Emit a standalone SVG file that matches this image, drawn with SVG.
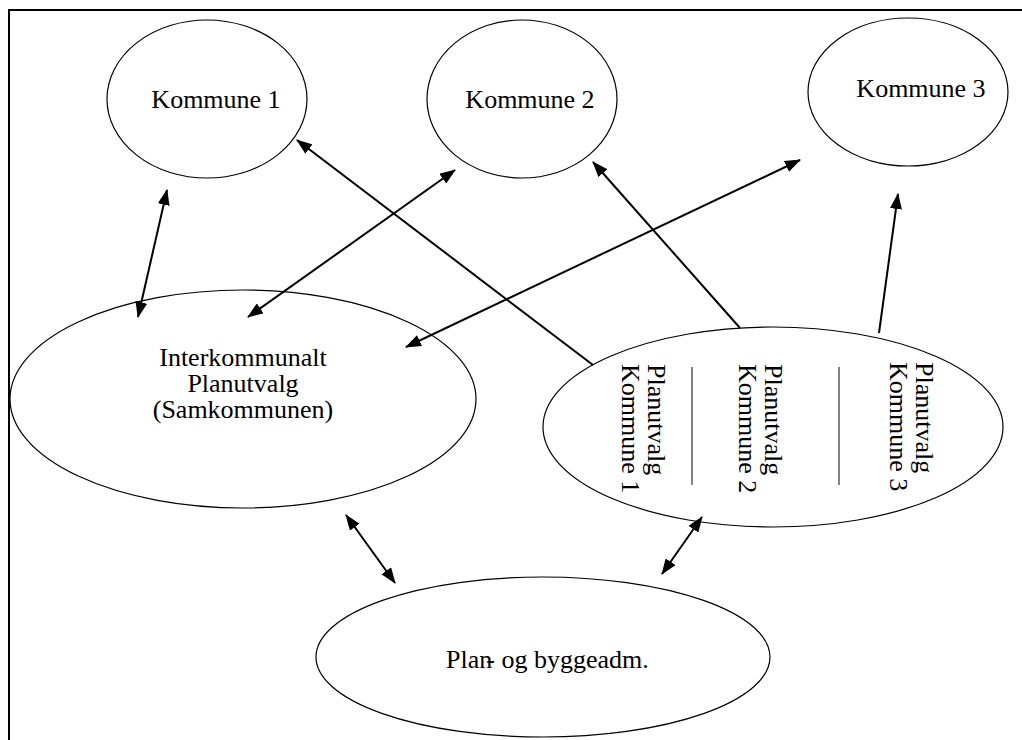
<svg xmlns="http://www.w3.org/2000/svg" width="1022" height="740" viewBox="0 0 1022 740">
<style>
.node ellipse{fill:#fff;stroke:#000;stroke-width:1.2}
text{font-family:"Liberation Serif","Times New Roman",serif;font-size:26px;fill:#000}
.c{text-anchor:middle}
.conn line{stroke:#000;stroke-width:2}
.sep{stroke:#333;stroke-width:1.2}
.frame{stroke:#000;stroke-width:2;fill:none}
</style>
<defs>
<marker id="ah" viewBox="0 0 16 12" markerWidth="16" markerHeight="12" refX="15" refY="6" markerUnits="userSpaceOnUse" orient="auto-start-reverse">
<path d="M0,0 L16,6 L0,12 z" fill="#000"/>
</marker>
</defs>
<rect width="1022" height="740" fill="#fff"/>
<path class="frame" d="M9,740 V10 H1022"/>
<g id="kommune1" class="node">
<ellipse cx="207" cy="99" rx="100" ry="79"/>
<text x="216" y="108" class="c">Kommune 1</text>
</g>
<g id="kommune2" class="node">
<ellipse cx="522" cy="99" rx="95" ry="79"/>
<text x="530" y="108" class="c">Kommune 2</text>
</g>
<g id="kommune3" class="node">
<ellipse cx="908" cy="92" rx="100" ry="74"/>
<text x="921" y="97" class="c">Kommune 3</text>
</g>
<g id="interkommunalt" class="node">
<ellipse cx="243" cy="399" rx="233" ry="109"/>
<text x="243" y="366" class="c">Interkommunalt</text>
<text x="243" y="392" class="c">Planutvalg</text>
<text x="243" y="418" class="c">(Samkommunen)</text>
</g>
<g id="planutvalg" class="node">
<ellipse cx="773" cy="427" rx="230" ry="100"/>
<text transform="translate(648,364) rotate(90)">Planutvalg</text>
<text transform="translate(622,364) rotate(90)">Kommune 1</text>
<line class="sep" x1="692" y1="367" x2="692" y2="485"/>
<text transform="translate(765,364) rotate(90)">Planutvalg</text>
<text transform="translate(739,364) rotate(90)">Kommune 2</text>
<line class="sep" x1="839" y1="367" x2="839" y2="485"/>
<text transform="translate(916,362) rotate(90)">Planutvalg</text>
<text transform="translate(890,362) rotate(90)">Kommune 3</text>
</g>
<g id="plan" class="node">
<ellipse cx="543" cy="657" rx="227" ry="80"/>
<text x="446" y="668">Plan<tspan dx="-6">-</tspan> og byggeadm.</text>
</g>
<g id="connectors" class="conn">
<line x1="138" y1="317" x2="167" y2="190" marker-start="url(#ah)" marker-end="url(#ah)"/>
<line x1="248" y1="317" x2="455" y2="170" marker-start="url(#ah)" marker-end="url(#ah)"/>
<line x1="593" y1="365" x2="297" y2="140" marker-end="url(#ah)"/>
<line x1="740" y1="328" x2="593" y2="162" marker-end="url(#ah)"/>
<line x1="406" y1="347" x2="800" y2="160" marker-start="url(#ah)" marker-end="url(#ah)"/>
<line x1="879" y1="333" x2="898" y2="194" marker-end="url(#ah)"/>
<line x1="346" y1="515" x2="395" y2="583" marker-start="url(#ah)" marker-end="url(#ah)"/>
<line x1="702" y1="517" x2="662" y2="574" marker-start="url(#ah)" marker-end="url(#ah)"/>
</g>
</svg>
